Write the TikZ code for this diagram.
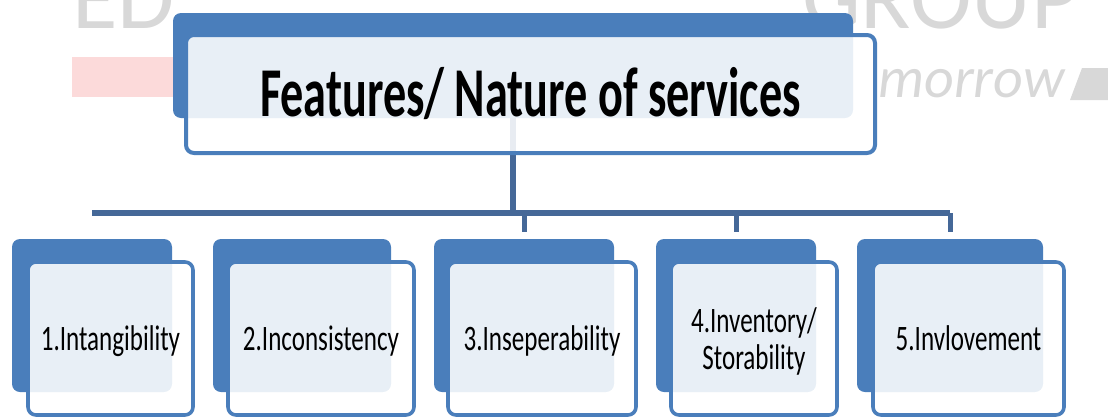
\documentclass[tikz,border=0pt]{standalone}
\usepackage{fontspec}
\setmainfont{Carlito}
\newfontfamily\titlefont[FakeStretch=0.66]{Carlito}
\newfontfamily\itemfont[FakeStretch=0.70]{Carlito}
\usetikzlibrary{backgrounds}
\definecolor{boxblue}{RGB}{74,126,187}
\definecolor{lineblue}{RGB}{69,104,152}
\definecolor{markgray}{RGB}{216,216,216}
\definecolor{markred}{RGB}{252,218,218}

\begin{document}
\begin{tikzpicture}[x=0.5pt,y=-0.5pt,
  backbox/.style={rectangle, rounded corners=4pt, fill=boxblue, inner sep=0pt},
  frontbox/.style={rectangle, rounded corners=4pt, draw=boxblue, line width=1.8pt,
    fill=white, fill opacity=0.88, text opacity=1, inner sep=0pt, align=center},
  item/.style={frontbox, minimum height=76.5pt,
    font=\itemfont\fontsize{17.9}{18.5}\selectfont, text depth=0pt},
  itemback/.style={backbox, minimum height=76.5pt},
  link/.style={draw=lineblue, line width=3pt},
  watermark/.style={text=markgray, inner sep=0pt}]
\useasboundingbox (0,0) rectangle (1108,418);

% watermark behind the chart
\fill[markred] (72,57) rectangle (185,97);
\node[watermark, anchor=base west, font=\fontsize{46.5}{50}\selectfont] (markLeft) at (72,28) {ED};
\node[watermark, anchor=base east, font=\fontsize{46.5}{50}\selectfont] (markRight) at (1080,28) {GROUP};
\node[watermark, anchor=base west, font=\itshape\fontsize{29}{32}\selectfont] (markTag) at (878,97) {morrow};
\fill[markgray] (1082,68) -- (1108,68) -- (1108,100) -- (1070,100) -- cycle;

% head
\node[backbox, minimum width=340pt, minimum height=52.5pt] (backTitle) at (513,65.5) {};
\node[frontbox, line width=2pt, minimum width=344.5pt, minimum height=59pt,
  font=\titlefont\bfseries\fontsize{35}{40}\selectfont] (title) at (530.5,94) {Features/ Nature of services};

% the five features
\node[itemback, minimum width=80pt] (backIntang) at (92,315.5) {};
\node[item, minimum width=82.5pt] (intang) at (110.5,338.5) {1.Intangibility};

\node[itemback, minimum width=89pt] (backIncons) at (302,315.5) {};
\node[item, minimum width=93pt] (incons) at (321,338.5) {2.Inconsistency};

\node[itemback, minimum width=90pt] (backInsep) at (524,315.5) {};
\node[item, minimum width=94pt] (insep) at (542,338.5) {3.Inseperability};

\node[itemback, minimum width=80pt] (backInvent) at (736,315.5) {};
\node[item, minimum width=83pt] (invent) at (754,338.5) {4.Inventory/\\Storability};

\node[itemback, minimum width=93pt] (backInvolve) at (950,315.5) {};
\node[item, minimum width=95.5pt] (involve) at (968.5,338.5) {5.Invlovement};

% connectors
\begin{pgfonlayer}{background}
  \coordinate (bus) at (0,213);
  \draw[link] (backTitle.center) -- (backTitle.center |- bus);
  \draw[link] (backIntang.center |- bus) -- (backInvolve.center |- bus);
  \foreach \b in {backInsep,backInvent,backInvolve}
    \draw[link, line width=2.5pt] (\b.north |- bus) -- ([yshift=3.5pt]\b.north);
\end{pgfonlayer}
\end{tikzpicture}
\end{document}
